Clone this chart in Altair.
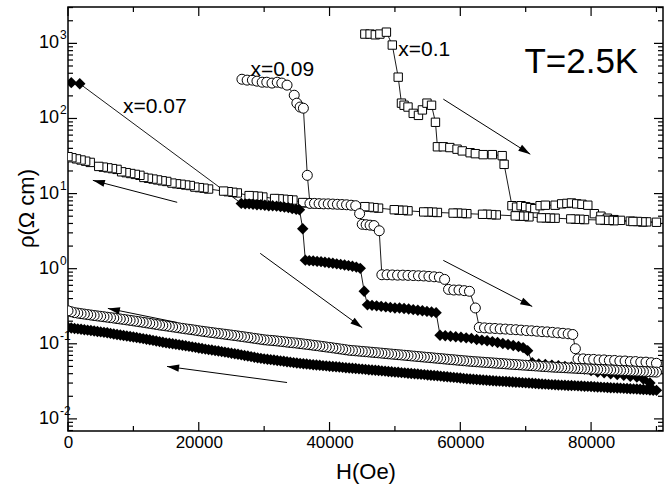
import math
import altair as alt
import pandas as pd

# ---------------- data ----------------
# x = 0.1 (open squares): field up, then field down
X10_UP_H = [45400, 46200, 47000, 47700, 48700, 49600, 50500, 51000, 51400, 52000,
            52800, 53600, 54200, 54900, 55600, 56200, 56500, 57400, 58400, 59500,
            60300, 61500, 62300, 63500, 64900, 66400, 66700, 67900, 68600, 69300,
            70000, 70700, 71400, 72200, 73000, 74500, 75500, 76300, 77000, 77800,
            78600, 79500, 80500, 81500, 82500, 83500, 84500, 86000, 88000]
X10_UP_R = [1330, 1330, 1300, 1330, 1410, 950, 355, 160, 150, 142,
            117, 110, 130, 160, 150, 89, 42, 42, 41, 39,
            37, 35, 34, 33, 33, 32, 24.5, 6.9, 6.6, 6.9,
            6.7, 6.5, 6.3, 6.9, 7.0, 7.0, 7.3, 7.4, 7.5, 7.3,
            7.2, 7.0, 5.4, 5.0, 4.7, 4.5, 4.4, 4.3, 4.2]
X10_DN_H = [90000, 88500, 87800, 87100, 86400, 83500, 82800, 82100, 81400,
            79000, 78300, 77600, 76900, 74500, 73800, 73100, 72400,
            70500, 69800, 69100, 68400, 65500, 64800, 64100, 63400,
            61000, 60300, 59600, 58900, 56500, 55800, 55100, 54400,
            52000, 51300, 50600, 49900, 47500, 46800, 46100, 45400,
            38000, 37300, 36600, 35900, 34400, 33700, 33000, 32300, 31600,
            29800, 29100, 28400, 27700, 25900, 25200, 24500, 23800,
            21500, 20800, 20100, 19400, 18700, 18000, 17300, 16600, 15900,
            15100, 14400, 13700, 13000, 12300, 11600, 11000, 10300, 9600, 8900, 8200,
            7500, 6800, 6100, 5400, 4700, 3400, 2700, 2000, 1300, 600, 0]
X10_DN_R = [4.15, 4.2, 4.2, 4.25, 4.25, 4.35, 4.4, 4.4, 4.45,
            4.5, 4.55, 4.55, 4.6, 4.7, 4.7, 4.75, 4.75,
            4.9, 5.0, 5.0, 5.05, 5.2, 5.25, 5.3, 5.3,
            5.4, 5.45, 5.5, 5.5, 5.6, 5.65, 5.7, 5.7,
            5.9, 6.0, 6.0, 6.1, 6.4, 6.5, 6.6, 6.7,
            7.3, 7.4, 7.5, 7.6, 8.2, 8.3, 8.4, 8.5, 8.6,
            9.0, 9.2, 9.3, 9.4, 10.2, 10.4, 10.6, 10.8,
            11.5, 11.8, 12.0, 12.2, 12.8, 13.0, 13.3, 13.5, 13.8,
            14.5, 14.8, 15.2, 15.6, 16.0, 16.4, 17.5, 18, 18.5, 19, 19.5,
            21, 21.5, 22, 22.5, 23, 26, 27, 28, 29, 30, 31]

# field-down sweep grid shared by the dense x=0.07 and x=0.09 branches
H_DOWN = [90000, 89500, 89000, 88500, 88000, 87500, 87000, 86500, 86000, 85500,
          85000, 84500, 84000, 83500, 83000, 82500, 82000, 81500, 81000, 80500,
          80000, 79500, 79000, 78500, 78000, 77500, 77000, 76500, 76000, 75500,
          75000, 74500, 74000, 73500, 73000, 72500, 72000, 71500, 71000, 70500,
          70000, 69500, 69000, 68500, 68000, 67500, 67000, 66500, 66000, 65500,
          65000, 64500, 64000, 63500, 63000, 62500, 62000, 61500, 61000, 60500,
          60000, 59500, 59000, 58500, 58000, 57500, 57000, 56500, 56000, 55500,
          55000, 54500, 54000, 53500, 53000, 52500, 52000, 51500, 51000, 50500,
          50000, 49500, 49000, 48500, 48000, 47500, 47000, 46500, 46000, 45500,
          45000, 44500, 44000, 43500, 43000, 42500, 42000, 41500, 41000, 40500,
          40000, 39500, 39000, 38500, 38000, 37500, 37000, 36500, 36000, 35500,
          35000, 34500, 34000, 33500, 33000, 32500, 32000, 31500, 31000, 30500,
          30000, 29500, 29000, 28500, 28000, 27500, 27000, 26500, 26000, 25500,
          25000, 24500, 24000, 23500, 23000, 22500, 22000, 21500, 21000, 20500,
          20000, 19500, 19000, 18500, 18000, 17500, 17000, 16500, 16000, 15500,
          15000, 14500, 14000, 13500, 13000, 12500, 12000, 11500, 11000, 10500,
          10000, 9500, 9000, 8500, 8000, 7500, 7000, 6500, 6000, 5500,
          5000, 4500, 4000, 3500, 3000, 2500, 2000, 1500, 1000, 500,
          0]

# x = 0.09 (open circles)
X09_UP_H = [26600, 27400, 28200, 28900, 29700, 30400, 31200, 32000, 32700, 33500,
            34600, 35000, 35500, 36000, 36600,
            37000, 37700, 38400, 39100, 39800, 40500, 41200, 41900, 42600, 43300, 44000,
            44600, 45000, 45600, 46200, 46800, 47600,
            48000, 48800, 49600, 50400, 51200, 52000, 52800, 53600, 54400, 55200, 56000, 56800,
            57600, 58200, 59000, 59800, 60600, 61400, 62300,
            62900, 63700, 64500, 65300, 66100, 66900, 67700, 68500, 69300, 70100,
            70900, 71700, 72500, 73300, 74100, 74900, 75700, 76500, 77200,
            77600, 78000, 78800, 79600, 80400, 81200, 82000, 82800, 83600, 84400,
            85200, 86000, 86800, 87600, 88400, 89200, 90000]
X09_UP_R = [333, 324, 324, 314, 304, 304, 296, 304, 296, 278,
            204, 160, 142, 137, 17.5,
            7.4, 7.4, 7.35, 7.3, 7.3, 7.25, 7.2, 7.15, 7.1, 7.0, 6.9,
            5.4, 3.9, 3.85, 3.8, 3.75, 3.2,
            0.83, 0.83, 0.825, 0.82, 0.82, 0.815, 0.81, 0.805, 0.80, 0.79, 0.78, 0.77,
            0.72, 0.53, 0.52, 0.52, 0.51, 0.50, 0.30,
            0.165, 0.163, 0.161, 0.16, 0.158, 0.157, 0.155, 0.154, 0.152, 0.15,
            0.149, 0.147, 0.145, 0.144, 0.142, 0.14, 0.138, 0.136, 0.133,
            0.086, 0.063, 0.063, 0.062, 0.062, 0.061, 0.061, 0.06, 0.06, 0.059,
            0.059, 0.058, 0.058, 0.057, 0.057, 0.056, 0.055]
X09_DN_R = [0.042, 0.0422, 0.0424, 0.0426, 0.0428, 0.043, 0.0432, 0.0434, 0.0436, 0.0438,
            0.044, 0.0442, 0.0444, 0.0446, 0.0448, 0.045, 0.0452, 0.0454, 0.0456, 0.0458,
            0.046, 0.0462, 0.0465, 0.0467, 0.047, 0.0472, 0.0475, 0.0477, 0.048, 0.0482,
            0.0485, 0.0487, 0.049, 0.0493, 0.0497, 0.05, 0.0504, 0.0507, 0.0511, 0.0514,
            0.0518, 0.0521, 0.0525, 0.0528, 0.0532, 0.0536, 0.054, 0.0544, 0.0548, 0.0552,
            0.0556, 0.056, 0.0564, 0.0568, 0.0572, 0.0576, 0.058, 0.0585, 0.059, 0.0595,
            0.0601, 0.0606, 0.0612, 0.0617, 0.0623, 0.0629, 0.0635, 0.0641, 0.0647, 0.0653,
            0.0659, 0.0665, 0.0671, 0.0677, 0.0684, 0.069, 0.0697, 0.0703, 0.071, 0.0716,
            0.0723, 0.0729, 0.0736, 0.0743, 0.075, 0.0757, 0.0764, 0.0771, 0.0778, 0.0785,
            0.0792, 0.0799, 0.0806, 0.0813, 0.082, 0.0832, 0.0845, 0.0857, 0.087, 0.0882,
            0.0895, 0.0907, 0.092, 0.0932, 0.0945, 0.0957, 0.097, 0.0982, 0.0995, 0.1007,
            0.102, 0.103, 0.104, 0.1052, 0.1065, 0.1077, 0.109, 0.11, 0.111, 0.112,
            0.113, 0.1147, 0.1165, 0.1182, 0.12, 0.1217, 0.1235, 0.1252, 0.127, 0.1287,
            0.1305, 0.1322, 0.134, 0.1357, 0.1375, 0.1392, 0.141, 0.143, 0.145, 0.147,
            0.149, 0.1515, 0.154, 0.156, 0.158, 0.1605, 0.163, 0.1655, 0.168, 0.1705,
            0.173, 0.1755, 0.178, 0.181, 0.184, 0.187, 0.19, 0.193, 0.196, 0.199,
            0.202, 0.205, 0.208, 0.211, 0.214, 0.217, 0.22, 0.223, 0.226, 0.229,
            0.232, 0.235, 0.238, 0.2415, 0.245, 0.2485, 0.252, 0.256, 0.26, 0.267,
            0.275]

# x = 0.07 (filled diamonds)
X07_UP_H = [500, 1800,
            26500, 27100, 27700, 28300, 28900, 29500, 30100, 30700, 31300, 31900,
            32500, 33100, 33700, 34300, 34900, 35400, 35900,
            36300, 36900, 37500, 38100, 38700, 39300, 39900, 40500, 41100, 41700,
            42300, 42900, 43500, 44100, 44700, 45300,
            45800, 46500, 47200, 47900, 48600, 49300, 50000, 50700, 51400, 52100,
            52800, 53500, 54200, 54900, 55600, 56300,
            56900, 57700, 58500, 59300, 60100, 60900, 61700, 62500, 63300, 64100,
            64900, 65700, 66500, 67300, 68100, 68900, 69600, 70300,
            71000, 72000, 73000, 74000, 75000, 76000, 77000, 78000, 79000, 80000,
            81000, 82000, 83000, 84000, 85000, 86000, 87000, 88000, 89000]
X07_UP_R = [300, 290,
            7.4, 7.3, 7.3, 7.2, 7.1, 7.1, 7.0, 6.9, 6.9, 6.8,
            6.7, 6.6, 6.5, 6.3, 6.2, 6.1, 3.4,
            1.30, 1.28, 1.27, 1.25, 1.24, 1.22, 1.20, 1.18, 1.16, 1.14,
            1.12, 1.10, 1.08, 1.05, 1.01, 0.50,
            0.33, 0.325, 0.32, 0.315, 0.31, 0.305, 0.30, 0.30, 0.295, 0.29,
            0.285, 0.28, 0.275, 0.27, 0.265, 0.26,
            0.13, 0.128, 0.126, 0.124, 0.122, 0.12, 0.118, 0.114, 0.112, 0.11,
            0.107, 0.104, 0.101, 0.098, 0.095, 0.092, 0.089, 0.081,
            0.056, 0.054, 0.053, 0.052, 0.051, 0.05, 0.049, 0.047, 0.046, 0.044,
            0.042, 0.041, 0.04, 0.039, 0.038, 0.037, 0.036, 0.034, 0.03]
X07_DN_R = [0.024, 0.0241, 0.0243, 0.0245, 0.0246, 0.0248, 0.025, 0.0251, 0.0252, 0.0254,
            0.0255, 0.0257, 0.0258, 0.0259, 0.026, 0.0262, 0.0263, 0.0265, 0.0266, 0.0268,
            0.027, 0.0271, 0.0272, 0.0274, 0.0275, 0.0277, 0.0278, 0.0279, 0.028, 0.0282,
            0.0283, 0.0285, 0.0286, 0.0288, 0.029, 0.0292, 0.0294, 0.0296, 0.0298, 0.03,
            0.0302, 0.0304, 0.0306, 0.0308, 0.031, 0.0312, 0.0314, 0.0316, 0.0318, 0.032,
            0.0322, 0.0325, 0.0327, 0.033, 0.0332, 0.0335, 0.0337, 0.034, 0.0342, 0.0346,
            0.035, 0.0354, 0.0357, 0.036, 0.0364, 0.0367, 0.0371, 0.0375, 0.0378, 0.0382,
            0.0385, 0.0389, 0.0392, 0.0396, 0.0399, 0.0402, 0.0406, 0.041, 0.0413, 0.0417,
            0.042, 0.0424, 0.0428, 0.0432, 0.0436, 0.044, 0.0444, 0.0448, 0.0452, 0.0456,
            0.046, 0.0464, 0.0468, 0.0472, 0.0476, 0.048, 0.0485, 0.049, 0.0494, 0.0498,
            0.0503, 0.0508, 0.0512, 0.0517, 0.0522, 0.0527, 0.0532, 0.0537, 0.0542, 0.0548,
            0.0555, 0.0562, 0.057, 0.0577, 0.0585, 0.0592, 0.06, 0.0607, 0.0615, 0.0622,
            0.063, 0.064, 0.065, 0.0662, 0.0675, 0.0687, 0.07, 0.0712, 0.0725, 0.0737,
            0.075, 0.0762, 0.0775, 0.0787, 0.08, 0.0812, 0.0825, 0.0837, 0.085, 0.0865,
            0.088, 0.0895, 0.091, 0.0925, 0.094, 0.0955, 0.097, 0.0985, 0.1, 0.1015,
            0.103, 0.105, 0.107, 0.109, 0.111, 0.113, 0.115, 0.117, 0.119, 0.121,
            0.123, 0.125, 0.127, 0.129, 0.131, 0.133, 0.135, 0.1375, 0.14, 0.142,
            0.144, 0.146, 0.148, 0.15, 0.152, 0.154, 0.156, 0.158, 0.16, 0.1625,
            0.165]

# arrows (tail -> tip), in data units
ARROW_H0 = [16700, 29400, 57400, 57400, 16700, 33500]
ARROW_R0 = [7.65, 1.6, 1.29, 181, 0.192, 0.0305]
ARROW_H1 = [3800, 45000, 71000, 70700, 6100, 15150]
ARROW_R1 = [15.0, 0.164, 0.314, 33.4, 0.296, 0.0499]

# annotations
SERIES_LABELS = ["x=0.07", "x=0.09", "x=0.1"]
SERIES_LABEL_H = [8400, 27900, 50500]
SERIES_LABEL_R = [118, 366, 678]
TEMP_LABEL = ["T=2.5K"]
TEMP_LABEL_H = [69800]
TEMP_LABEL_R = [402]

# axes
X_LABELS = [0, 20000, 40000, 60000, 80000]
X_MINOR = [10000, 30000, 50000, 70000, 90000]
Y_EXP = [-2, -1, 0, 1, 2, 3]
Y_EXP_TEXT = ["-2", "-1", "0", "1", "2", "3"]

# ---------------- layout ----------------
W, HT = 595, 424
XDOM = [0, 91000]
YDOM = [0.0069, 3050]
FONT = "Liberation Sans"

XS = alt.Scale(domain=XDOM, nice=False, zero=False)
YS = alt.Scale(type="log", domain=YDOM, nice=False)

XAX = alt.Axis(values=X_LABELS, format="d", labelFontSize=17, labelFlush=False,
               labelPadding=3, labelColor="black", labelFont=FONT,
               ticks=False, tickSize=0, domain=False, grid=False,
               title="H(Oe)", titleFontSize=22, titleFontWeight="normal",
               titleFont=FONT, titleColor="black", titleY=47, titleBaseline="alphabetic")
YAX = alt.Axis(labels=False, ticks=False, tickSize=0, domain=False, grid=False,
               title="ρ(Ω cm)", titleFontSize=22, titleFontWeight="normal",
               titleFont=FONT, titleColor="black", titleX=-35, titleY=201,
               titleAngle=270, titleBaseline="alphabetic")


def xe(f):
    return alt.X(f"{f}:Q", scale=XS, axis=XAX)


def ye(f):
    return alt.Y(f"{f}:Q", scale=YS, axis=YAX)


def series_df(h_up, r_up, h_dn, r_dn):
    assert len(h_up) == len(r_up) and len(h_dn) == len(r_dn)
    h = list(h_up) + list(h_dn)
    r = list(r_up) + list(r_dn)
    return pd.DataFrame({"H": h, "R": r, "i": list(range(len(h)))})


df10 = series_df(X10_UP_H, X10_UP_R, X10_DN_H, X10_DN_R)
df09 = series_df(X09_UP_H, X09_UP_R, H_DOWN, X09_DN_R)
df07 = series_df(X07_UP_H, X07_UP_R, H_DOWN, X07_DN_R)

# ticks (inward, on all four sides)
y_major = [10.0 ** e for e in Y_EXP]
y_minor = [m * 10.0 ** e for e in range(-3, 4) for m in range(2, 10)
           if YDOM[0] <= m * 10.0 ** e <= YDOM[1]]
dfy_major = pd.DataFrame({"v": y_major})
dfy_minor = pd.DataFrame({"v": y_minor})
dfx_major = pd.DataFrame({"v": X_LABELS})
dfx_minor = pd.DataFrame({"v": X_MINOR})

TK = dict(color="black", strokeWidth=1.2)
ticks = [
    alt.Chart(dfy_major).mark_rule(**TK).encode(y=ye("v"), x=alt.value(0), x2=alt.value(9)),
    alt.Chart(dfy_minor).mark_rule(**TK).encode(y=ye("v"), x=alt.value(0), x2=alt.value(5)),
    alt.Chart(dfy_major).mark_rule(**TK).encode(y=ye("v"), x=alt.value(W - 9), x2=alt.value(W)),
    alt.Chart(dfy_minor).mark_rule(**TK).encode(y=ye("v"), x=alt.value(W - 5), x2=alt.value(W)),
    alt.Chart(dfx_major).mark_rule(**TK).encode(x=xe("v"), y=alt.value(HT - 9), y2=alt.value(HT)),
    alt.Chart(dfx_minor).mark_rule(**TK).encode(x=xe("v"), y=alt.value(HT - 5), y2=alt.value(HT)),
    alt.Chart(dfx_major).mark_rule(**TK).encode(x=xe("v"), y=alt.value(0), y2=alt.value(9)),
    alt.Chart(dfx_minor).mark_rule(**TK).encode(x=xe("v"), y=alt.value(0), y2=alt.value(5)),
]

# connecting lines
lines = [
    alt.Chart(d).mark_line(color="black", strokeWidth=0.9, clip=True).encode(
        x=xe("H"), y=ye("R"), order=alt.Order("i:Q"))
    for d in (df10, df07, df09)
]

# markers
sq = alt.Chart(df10).mark_point(shape="square", size=70, filled=True, fill="white",
                                stroke="black", strokeWidth=1, opacity=1, fillOpacity=1,
                                clip=True).encode(x=xe("H"), y=ye("R"))
dm = alt.Chart(df07).mark_point(shape="diamond", size=130, filled=True, color="black",
                                opacity=1, clip=True).encode(x=xe("H"), y=ye("R"))
ci = alt.Chart(df09).mark_point(shape="circle", size=100, filled=True, fill="white",
                                stroke="black", strokeWidth=1, opacity=1, fillOpacity=1,
                                clip=True).encode(x=xe("H"), y=ye("R"))

# arrows
L0, L1 = math.log10(YDOM[0]), math.log10(YDOM[1])


def px(h):
    return W * (h - XDOM[0]) / (XDOM[1] - XDOM[0])


def py(r):
    return HT * (L1 - math.log10(r)) / (L1 - L0)


angles = [math.degrees(math.atan2(px(h1) - px(h0), -(py(r1) - py(r0)))) % 360
          for h0, r0, h1, r1 in zip(ARROW_H0, ARROW_R0, ARROW_H1, ARROW_R1)]
dfa = pd.DataFrame({"h0": ARROW_H0, "r0": ARROW_R0, "h1": ARROW_H1, "r1": ARROW_R1,
                    "ang": angles})
arrow_lines = alt.Chart(dfa).mark_rule(color="black", strokeWidth=1).encode(
    x=xe("h0"), y=ye("r0"), x2=alt.X2("h1:Q"), y2=alt.Y2("r1:Q"))
arrow_heads = alt.Chart(dfa).mark_point(shape="M0,0L0.3,1L-0.3,1Z", size=576, filled=True,
                                        color="black", opacity=1).encode(
    x=xe("h1"), y=ye("r1"), angle=alt.Angle("ang:Q", scale=None))

# text
dft = pd.DataFrame({"t": SERIES_LABELS, "h": SERIES_LABEL_H, "r": SERIES_LABEL_R})
txt = alt.Chart(dft).mark_text(align="left", baseline="alphabetic", fontSize=21,
                               font=FONT, color="black").encode(
    x=xe("h"), y=ye("r"), text="t:N")
dfT = pd.DataFrame({"t": TEMP_LABEL, "h": TEMP_LABEL_H, "r": TEMP_LABEL_R})
txtT = alt.Chart(dfT).mark_text(align="left", baseline="alphabetic", fontSize=35,
                                font=FONT, color="black").encode(
    x=xe("h"), y=ye("r"), text="t:N")

# y tick labels: "10" with raised exponent
dfyl = pd.DataFrame({"v": y_major, "base": ["10"] * len(y_major), "e": Y_EXP_TEXT})
ylab_base = alt.Chart(dfyl).mark_text(align="right", baseline="middle", fontSize=18,
                                      font=FONT, color="black").encode(
    y=ye("v"), x=alt.value(-9), text="base:N")
ylab_exp = alt.Chart(dfyl).mark_text(align="left", baseline="middle", fontSize=12,
                                     font=FONT, color="black", dy=-8).encode(
    y=ye("v"), x=alt.value(-8), text="e:N")

chart = alt.layer(
    *ticks, *lines, sq, dm, ci, arrow_lines, arrow_heads, txt, txtT, ylab_base, ylab_exp
).properties(
    width=W, height=HT,
    padding={"left": 68, "top": 7, "right": 5, "bottom": 57},
).configure(
    autosize=alt.AutoSizeParams(type="none"),
    font=FONT,
    background="white",
).configure_view(stroke="black", strokeWidth=1.5)

chart.save("out.html", embed_options={"renderer": "svg", "actions": False})
